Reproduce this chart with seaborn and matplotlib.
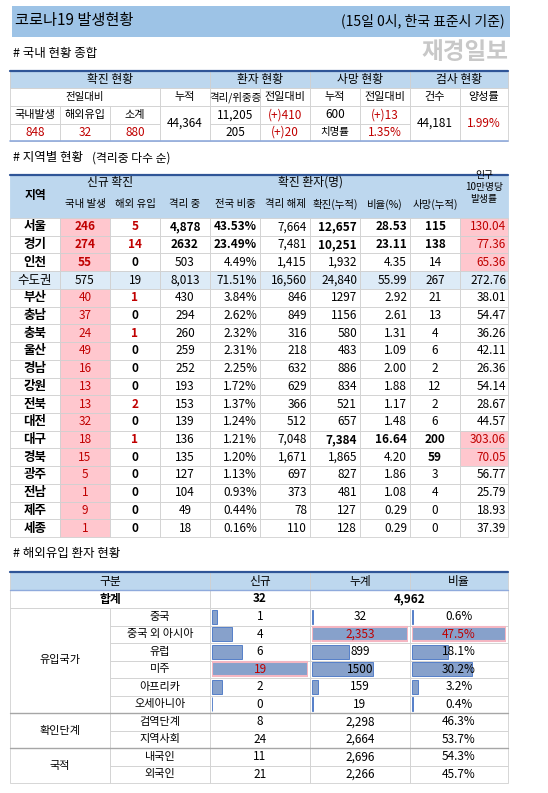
import matplotlib
matplotlib.use('Agg')
import matplotlib.pyplot as plt
import seaborn as sns
import pandas as pd

# ---- data ----
regions = ['서울', '경기', '인천', '수도권', '부산', '충남', '충북', '울산', '경남', '강원',
           '전북', '대전', '대구', '경북', '광주', '전남', '제주', '세종']
new_local = [246, 274, 55, 575, 40, 37, 24, 49, 16, 13, 13, 32, 18, 15, 5, 1, 9, 1]
new_import = [5, 14, 0, 19, 1, 0, 1, 0, 0, 0, 2, 0, 1, 0, 0, 0, 0, 0]
isolated = ['4,878', '2632', '503', '8,013', '430', '294', '260', '259', '252', '193',
            '153', '139', '136', '135', '127', '104', '49', '18']
share = ['43.53%', '23.49%', '4.49%', '71.51%', '3.84%', '2.62%', '2.32%', '2.31%', '2.25%',
         '1.72%', '1.37%', '1.24%', '1.21%', '1.20%', '1.13%', '0.93%', '0.44%', '0.16%']
released = ['7,664', '7,481', '1,415', '16,560', '846', '849', '316', '218', '632', '629',
            '366', '512', '7,048', '1,671', '697', '373', '78', '110']
confirmed = ['12,657', '10,251', '1,932', '24,840', '1297', '1156', '580', '483', '886', '834',
             '521', '657', '7,384', '1,865', '827', '481', '127', '128']
ratio = ['28.53', '23.11', '4.35', '55.99', '2.92', '2.61', '1.31', '1.09', '2.00', '1.88',
         '1.17', '1.48', '16.64', '4.20', '1.86', '1.08', '0.29', '0.29']
deaths = ['115', '138', '14', '267', '21', '13', '4', '6', '2', '12', '2', '6', '200', '59',
          '3', '4', '0', '0']
per100k = ['130.04', '77.36', '65.36', '272.76', '38.01', '54.47', '36.26', '42.11', '26.36',
           '54.14', '28.67', '44.57', '303.06', '70.05', '56.77', '25.79', '18.93', '37.39']

origins = ['중국', '중국 외 아시아', '유럽', '미주', '아프리카', '오세아니아']
origin_new = [1, 4, 6, 19, 2, 0]
origin_total = [32, 2353, 899, 1500, 159, 19]
origin_pct = [0.6, 47.5, 18.1, 30.2, 3.2, 0.4]
stage_labels = ['검역단계', '지역사회']
stage_new = [8, 24]
stage_total = ['2,298', '2,664']
stage_pct = ['46.3%', '53.7%']
nat_labels = ['내국인', '외국인']
nat_new = [11, 21]
nat_total = ['2,696', '2,266']
nat_pct = ['54.3%', '45.7%']

W, H = 548, 793
HEAD = '#bdd7ee'
PINK = '#ffc7ce'
RED = '#c00000'
LINE = '#d0d0d0'
DARK = '#2f5597'

sns.set_style('white')
plt.rcParams['font.family'] = ['Noto Sans CJK KR', 'DejaVu Sans']

fig = plt.figure(figsize=(W / 100, H / 100), dpi=100)
ax = fig.add_axes([0, 0, 1, 1])
ax.set_xlim(0, W)
ax.set_ylim(H, 0)
ax.axis('off')


def box(x0, y0, x1, y1, fc='white', ec=LINE, lw=0.6):
    ax.add_patch(plt.Rectangle((x0, y0), x1 - x0, y1 - y0, fc=fc, ec=ec, lw=lw))


def txt(x, y, s, ha='center', size=8.5, color='black', bold=False):
    ax.text(x, y, s, ha=ha, va='center', fontsize=size, color=color,
            fontweight='bold' if bold else 'normal')


def hline(y, x0=10, x1=508, color=DARK, lw=1.6):
    ax.plot([x0, x1], [y, y], color=color, lw=lw)


# title
box(12, 6, 510, 37, fc='#9dc3e6', ec='none')
txt(15, 21, '코로나19 발생현황', ha='left', size=11)
txt(505, 21, '(15일 0시, 한국 표준시 기준)', ha='left' if False else 'right', size=10)
txt(13, 53, '# 국내 현황 종합', ha='left', size=9)
txt(508, 52, '재경일보', ha='right', size=17, color='#c8c8c8', bold=True)

# ---- table 1 ----
X = [10 + 50 * i for i in range(10)] + [508]
box(10, 71, 508, 88, fc=HEAD)
for (a, b, s) in [(0, 4, '확진 현황'), (4, 6, '환자 현황'), (6, 8, '사망 현황'), (8, 10, '검사 현황')]:
    box(X[a], 71, X[b], 88, fc=HEAD)
    txt((X[a] + X[b]) / 2, 79.5, s)
box(X[0], 88, X[3], 106)
txt((X[0] + X[3]) / 2, 97, '전일대비', size=7.5)
for i, s in zip(range(3, 10), ['누적', '격리/위중증', '전일대비', '누적', '전일대비', '건수', '양성률']):
    box(X[i], 88, X[i + 1], 106)
    txt((X[i] + X[i + 1]) / 2, 97, s, size=7.5 if i == 4 else 8)
for i, (a, b) in enumerate([('국내발생', '848'), ('해외유입', '32'), ('소계', '880')]):
    box(X[i], 106, X[i + 1], 124)
    box(X[i], 124, X[i + 1], 141)
    txt((X[i] + X[i + 1]) / 2, 115, a, size=8)
    txt((X[i] + X[i + 1]) / 2, 132.5, b, color=RED)
for i, s in [(3, '44,364'), (8, '44,181'), (9, '1.99%')]:
    box(X[i], 106, X[i + 1], 141)
    txt((X[i] + X[i + 1]) / 2, 123.5, s, color=RED if i == 9 else 'black')
for i, top, bot in [(4, '11,205', '205'), (5, '(+)410', '(+)20'), (6, '600', '치명률'), (7, '(+)13', '1.35%')]:
    box(X[i], 106, X[i + 1], 124)
    box(X[i], 124, X[i + 1], 141)
    c = RED if i in (5, 7) else 'black'
    txt((X[i] + X[i + 1]) / 2, 115, top, color=c)
    txt((X[i] + X[i + 1]) / 2, 132.5, bot, color=c, size=7.5 if bot == '치명률' else 8.5)
hline(71)
hline(141, color='#8faadc', lw=1.2)

# ---- table 2 ----
txt(13, 158, '# 지역별 현황', ha='left', size=9)
txt(92, 158, '(격리중 다수 순)', ha='left', size=8.5)
box(X[0], 175, X[1], 218, fc=HEAD, ec=HEAD)
txt(35, 196, '지역', bold=True)
box(X[1], 175, X[3], 190, fc=HEAD, ec=HEAD)
txt(110, 182.5, '신규 확진')
box(X[3], 175, X[9], 190, fc=HEAD, ec=HEAD)
txt(310, 182.5, '확진 환자(명)')
box(X[9], 175, X[10], 218, fc=HEAD, ec=HEAD)
txt(484, 187, '인구\n10만명당\n발생률', size=7, color='black')
sub = ['국내 발생', '해외 유입', '격리 중', '전국 비중', '격리 해제', '확진(누적)', '비율(%)', '사망(누적)']
for i, s in enumerate(sub):
    box(X[i + 1], 190, X[i + 2], 218, fc=HEAD, ec=HEAD)
    txt((X[i + 1] + X[i + 2]) / 2, 204, s, size=7.5)

rh = (537 - 218) / len(regions)
pink_last = {'서울', '경기', '인천', '대구', '경북'}
for r, reg in enumerate(regions):
    y0 = 218 + r * rh
    yc = y0 + rh / 2
    capital = reg == '수도권'
    bg = '#ddebf7' if capital else 'white'
    for i in range(10):
        fc = bg
        if not capital and (i == 1 or (i == 9 and reg in pink_last)):
            fc = PINK
        box(X[i], y0, X[i + 1], y0 + rh, fc=fc)
    big = reg in ('서울', '경기')
    txt(35, yc, reg, bold=not capital, size=9)
    txt(85, yc, str(new_local[r]), color='black' if capital else RED, bold=r < 3)
    txt(135, yc, str(new_import[r]), bold=not capital,
        color=RED if (new_import[r] and not capital) else 'black')
    txt(185, yc, isolated[r], bold=big)
    txt(257, yc, share[r], ha='right', bold=big)
    txt(307, yc, released[r], ha='right')
    txt(357, yc, confirmed[r], ha='right', bold=big or reg == '대구')
    txt(407, yc, ratio[r], ha='right', bold=big or reg == '대구')
    txt(435, yc, deaths[r], bold=big or reg in ('대구', '경북'))
    txt(506, yc, per100k[r], ha='right',
        color=RED if reg in pink_last else 'black')
hline(175)

# ---- table 3 ----
txt(13, 554, '# 해외유입 환자 현황', ha='left', size=9)
C = [10, 210, 310, 410, 508]
for i, s in enumerate(['구분', '신규', '누계', '비율']):
    box(C[i], 572, C[i + 1], 590, fc=HEAD)
    txt((C[i] + C[i + 1]) / 2, 581, s)
box(10, 590, 210, 608)
txt(110, 599, '합계', bold=True)
box(210, 590, 310, 608)
txt(260, 599, '32', bold=True)
box(310, 590, 508, 608)
txt(410, 599, '4,962', bold=True)

rh3 = (713 - 608) / len(origins)
box(10, 608, 110, 713)
txt(60, 660.5, '유입국가', size=8)
for r, o in enumerate(origins):
    y0 = 608 + r * rh3
    for i in range(1, 4):
        box(C[i], y0, C[i + 1], y0 + rh3)
    box(110, y0, 210, y0 + rh3)
    txt(160, y0 + rh3 / 2, o, size=8)

# data bars drawn on inset axes, one per column
bar_df = pd.DataFrame({'origin': origins, 'new': origin_new,
                       'total': origin_total, 'pct': origin_pct})
for i, col in enumerate(['new', 'total', 'pct']):
    bx = fig.add_axes([(C[i + 1] + 2) / W, 1 - 713 / H,
                       (C[i + 2] - C[i + 1] - 4) / W, (713 - 608) / H])
    sns.barplot(data=bar_df, y='origin', x=col, color='#7c9ed6', width=0.82,
                edgecolor='#4472c4', linewidth=0.6, ax=bx)
    bx.set_xlim(0, bar_df[col].max() * 1.0)
    bx.axis('off')
    bx.patch.set_alpha(0)
    vmax = bar_df[col].idxmax()
    for r in range(len(origins)):
        v = bar_df[col][r]
        s = f'{v:.1f}%' if col == 'pct' else (f'{v:,}' if v != 1500 else '1500')
        hi = r == vmax
        bx.text(0.5, r, s, transform=bx.get_yaxis_transform(), ha='center', va='center',
                fontsize=8.5, color=RED if hi else 'black')
    p = bx.patches[vmax]
    p.set_edgecolor('#f4b6c2')
    p.set_linewidth(1.5)

rows = [(stage_labels, stage_new, stage_total, stage_pct, '확인단계', 713),
        (nat_labels, nat_new, nat_total, nat_pct, '국적', 748)]
for labels, nv, tv, pv, grp, ys in rows:
    box(10, ys, 110, ys + 35)
    txt(60, ys + 17.5, grp, size=8)
    for k in range(2):
        y0 = ys + k * 17.5
        for i, s in enumerate([labels[k], str(nv[k]), tv[k], pv[k]]):
            x0 = 110 if i == 0 else C[i]
            box(x0, y0, C[i + 1], y0 + 17.5)
            txt((x0 + C[i + 1]) / 2, y0 + 8.75, s, size=8 if i == 0 else 8.5)
    hline(ys, color='#a6a6a6', lw=1.0)
hline(572)
hline(590, color='#8faadc', lw=1.0)

fig.savefig('out.png', dpi=100)
